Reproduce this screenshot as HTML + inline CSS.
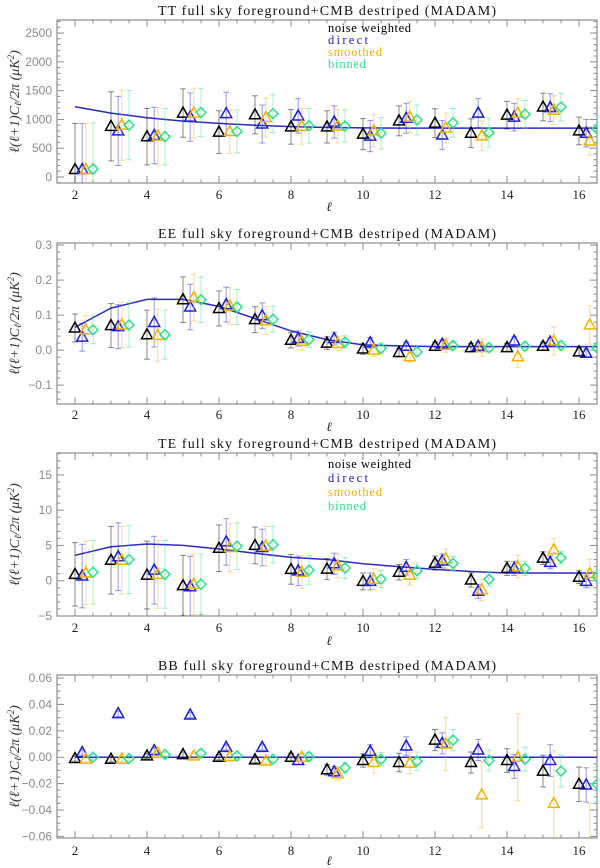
<!DOCTYPE html>
<html><head><meta charset="utf-8"><style>
html,body{margin:0;padding:0;background:#fff;}
svg{display:block;}
.ttl{font-family:"Liberation Serif",serif;font-size:14px;fill:#111;}
.ytk{font-family:"Liberation Sans",sans-serif;font-size:12px;fill:#8a8a8a;}
.xtk{font-family:"Liberation Serif",serif;font-size:13px;fill:#222;}
.leg{font-family:"Liberation Serif",serif;font-size:12.5px;}
.yt{font-family:"Liberation Serif",serif;font-size:14px;fill:#333;font-style:italic;}
</style></head><body>
<svg id="chart" width="600" height="868" viewBox="0 0 600 868" xmlns="http://www.w3.org/2000/svg"></svg>
<script>
// ---- shared x categories ----
const ells = [2,3,4,5,6,7,8,9,10,11,12,13,14,15,16];
const xTicks = [2,4,6,8,10,12,14,16];

// ---- TT ----
const ttBlack  = [130,880,700,1110,780,1080,870,870,745,975,935,760,1075,1215,800];
const ttBlue   = [130,800,720,1040,1100,920,1060,955,710,1020,730,1110,1040,1205,760];
const ttYellow = [130,900,710,1110,790,1030,880,885,800,1040,850,715,1110,1160,625];
const ttGreen  = [140,900,700,1120,790,1100,890,885,760,990,940,770,1090,1215,830];
const ttErr    = [800,600,490,420,370,330,300,280,270,260,250,250,240,240,240];
const ttErrY   = [800,610,500,430,380,340,310,290,280,270,260,260,250,250,250];
const ttTheory = [1220,1110,1030,970,930,900,875,860,852,850,850,850,850,850,850];
const ttYTicks = [0,500,1000,1500,2000,2500];
const ttYLabels = ["0","500","1000","1500","2000","2500"];

// ---- EE ----
const eeBlack  = [0.063,0.070,0.044,0.144,0.119,0.087,0.028,0.020,0.003,-0.007,0.011,0.007,0.007,0.011,-0.005];
const eeBlue   = [0.037,0.067,0.079,0.123,0.130,0.098,0.033,0.033,0.021,0.011,0.017,0.011,0.026,0.023,-0.009];
const eeYellow = [0.058,0.072,0.042,0.150,0.126,0.084,0.025,0.019,0.000,-0.019,0.014,0.007,-0.019,0.026,0.072];
const eeGreen  = [0.058,0.072,0.044,0.144,0.123,0.088,0.030,0.023,0.005,-0.005,0.013,0.007,0.011,0.013,0.007];
const eeErr    = [0.040,0.063,0.070,0.065,0.050,0.037,0.022,0.018,0.015,0.012,0.012,0.012,0.012,0.012,0.012];
const eeErrY   = [0.040,0.065,0.075,0.067,0.052,0.040,0.025,0.020,0.018,0.015,0.020,0.025,0.030,0.040,0.055];
const eeTheory = [0.065,0.120,0.145,0.145,0.125,0.090,0.055,0.030,0.015,0.012,0.010,0.010,0.010,0.010,0.010];
const eeYTicks = [-0.1,0,0.1,0.2,0.3];
const eeYLabels = ["\u22120.1","0.0","0.1","0.2","0.3"];

// ---- TE ----
const teBlack  = [0.9,2.9,0.8,-0.7,4.6,5.0,1.6,1.65,-0.1,1.2,2.5,0.1,1.75,3.2,0.5];
const teBlue   = [0.66,3.4,1.5,-0.85,5.5,4.7,1.4,2.4,-0.1,1.9,2.8,-1.5,1.75,2.6,-0.1];
const teYellow = [1.1,2.9,0.9,-0.5,4.7,4.9,1.2,2.1,0.2,0.8,3.1,-1.3,2.0,4.4,1.0];
const teGreen  = [1.2,3.0,0.9,-0.5,4.9,5.1,1.5,1.8,0.24,1.4,2.45,0.2,1.75,3.25,0.55];
const teErr    = [4.5,4.8,4.8,4.3,3.3,2.6,2.1,1.5,1.2,1.1,1.0,1.0,1.0,0.9,0.9];
const teErrY   = [4.5,4.8,4.8,4.3,3.4,2.8,2.3,1.7,1.5,1.4,1.4,1.5,1.6,1.6,2.0];
const teTheory = [3.6,4.8,5.2,5.0,4.5,3.9,3.3,3.0,2.4,2.0,1.6,1.3,1.1,1.1,1.1];
const teYTicks = [-5,0,5,10,15];
const teYLabels = ["\u22125","0","5","10","15"];

// ---- BB ----
const bbBlack  = [-0.001,-0.0015,0.001,0.002,0,-0.002,0,-0.0095,-0.0025,-0.004,0.013,-0.004,-0.0025,-0.0105,-0.0205];
const bbBlue   = [0.0035,0.033,0.005,0.032,0.0075,0.0075,-0.0025,-0.011,0.0045,0.0085,0.0105,0.0055,-0.007,-0.0025,-0.021];
const bbYellow = [-0.0015,-0.0015,0.003,0.001,0.0005,-0.003,0,-0.0125,-0.004,-0.0045,0.010,-0.0285,0,-0.035,-0.07];
const bbGreen  = [0,-0.001,0.002,0.003,0.001,-0.0015,0.0005,-0.008,-0.0015,-0.003,0.013,-0.0025,-0.0015,-0.0105,-0.0205];
const bbErr    = [0.002,0.002,0.002,0.002,0.002,0.002,0.003,0.004,0.005,0.007,0.008,0.008,0.009,0.012,0.013];
const bbErrY   = [0.002,0.002,0.002,0.002,0.002,0.002,0.003,0.005,0.008,0.008,0.020,0.025,0.033,0.040,0.035];
const bbTheory = [0,0,0,0,0,0,0,0,0,0,0,0,0,0,0];
const bbYTicks = [-0.06,-0.04,-0.02,0,0.02,0.04,0.06];
const bbYLabels = ["\u22120.06","\u22120.04","\u22120.02","0.00","0.02","0.04","0.06"];

const NS = "http://www.w3.org/2000/svg";
const svg = document.getElementById("chart");
const COL = {k:"#000000", b:"#1c1cd0", y:"#f2b400", g:"#2ee08c"};
const X0 = 57, X1 = 597, XMIN = 1.5, XMAX = 16.5;
function xs(v){ return X0 + (v - XMIN) / (XMAX - XMIN) * (X1 - X0); }

function mk(tag, attrs, parent){
  const e = document.createElementNS(NS, tag);
  for (const k in attrs) e.setAttribute(k, attrs[k]);
  (parent || svg).appendChild(e);
  return e;
}

const panels = [
  {id:"tt", title:"TT full sky foreground+CMB destriped (MADAM)", top:20, bot:183, ymin:-104, ymax:2726,
   yt:ttYTicks, yl:ttYLabels, minor:100, s:{k:ttBlack,b:ttBlue,y:ttYellow,g:ttGreen}, err:ttErr, errY:ttErrY, th:ttTheory,
   titleY:15, xtkY:199, xTitleY:211, legend:[28,40,52,64]},
  {id:"ee", title:"EE full sky foreground+CMB destriped (MADAM)", top:243, bot:404, ymin:-0.154, ymax:0.306,
   yt:eeYTicks, yl:eeYLabels, minor:0.02, s:{k:eeBlack,b:eeBlue,y:eeYellow,g:eeGreen}, err:eeErr, errY:eeErrY, th:eeTheory,
   titleY:238, xtkY:419, xTitleY:431, legend:null},
  {id:"te", title:"TE  full sky foreground+CMB destriped (MADAM)", top:453, bot:616, ymin:-5.0, ymax:18.1,
   yt:teYTicks, yl:teYLabels, minor:1, s:{k:teBlack,b:teBlue,y:teYellow,g:teGreen}, err:teErr, errY:teErrY, th:teTheory,
   titleY:448, xtkY:632, xTitleY:645, legend:[464,478,492,506]},
  {id:"bb", title:"BB full sky foreground+CMB destriped (MADAM)", top:675, bot:838, ymin:-0.0612, ymax:0.0623,
   yt:bbYTicks, yl:bbYLabels, minor:0.005, s:{k:bbBlack,b:bbBlue,y:bbYellow,g:bbGreen}, err:bbErr, errY:bbErrY, th:bbTheory,
   titleY:670, xtkY:855, xTitleY:865, legend:null}
];

const offs = {k:0, b:0.2, y:0.3, g:0.5};
const names = {k:"noise-weighted", b:"direct", y:"smoothed", g:"binned"};

panels.forEach(p => {
  const ys = v => p.bot - (v - p.ymin) / (p.ymax - p.ymin) * (p.bot - p.top);
  const g = mk("g", {});
  
  

  const t = mk("text", {x:(X0+X1)/2, y:p.titleY, "text-anchor":"middle", class:"ttl", textLength:338, lengthAdjust:"spacing"}, g);
  
  
  t.textContent = p.title;

  const cpId = "clip-" + p.id;
  const cp = mk("clipPath", {id:cpId}, g);
  mk("rect", {x:X0, y:p.top, width:X1-X0, height:p.bot-p.top}, cp);

  const box = mk("rect", {x:X0, y:p.top, width:X1-X0, height:p.bot-p.top, fill:"none", stroke:"#8c8c8c", "stroke-width":1.2}, g);
  
  

  for (let v = 2; v <= 16.01; v += 0.5) {
    const major = Math.abs(v - Math.round(v/2)*2) < 1e-6;
    const len = major ? 7 : 3.5;
    mk("line", {x1:xs(v), x2:xs(v), y1:p.bot, y2:p.bot-len, stroke:"#8c8c8c", "stroke-width":1}, g);
    mk("line", {x1:xs(v), x2:xs(v), y1:p.top, y2:p.top+len, stroke:"#8c8c8c", "stroke-width":1}, g);
  }
  xTicks.forEach(v => {
    const tl = mk("text", {x:xs(v), y:p.xtkY, "text-anchor":"middle", class:"xtk"}, g);
    
    
    tl.textContent = String(v);
  });
  const xt = mk("text", {x:329, y:p.xTitleY, "text-anchor":"middle", class:"xtk", "font-style":"italic"}, g);
  
  
  xt.textContent = "\u2113";

  const nMin = Math.ceil(p.ymin / p.minor), nMax = Math.floor(p.ymax / p.minor);
  for (let i = nMin; i <= nMax; i++) {
    const v = i * p.minor;
    const major = p.yt.some(tv => Math.abs(tv - v) < p.minor * 0.01);
    const len = major ? 7 : 3.5;
    mk("line", {x1:X0, x2:X0+len, y1:ys(v), y2:ys(v), stroke:"#8c8c8c", "stroke-width":1}, g);
    mk("line", {x1:X1, x2:X1-len, y1:ys(v), y2:ys(v), stroke:"#8c8c8c", "stroke-width":1}, g);
  }
  p.yt.forEach((v, i) => {
    const tl = mk("text", {x:X0-5, y:ys(v)+4, "text-anchor":"end", class:"ytk"}, g);
    
    
    tl.textContent = p.yl[i];
  });
  const yc = (p.top + p.bot) / 2;
  const yt = mk("text", {x:19, y:yc, "text-anchor":"middle", class:"yt", transform:"rotate(-90 19 " + yc + ")"}, g);
  
  
  yt.innerHTML = '\u2113(\u2113+1)C<tspan font-size="10" dy="2">\u2113</tspan><tspan dy="-2">/2\u03c0  (\u03bcK</tspan><tspan font-size="9" dy="-5">2</tspan><tspan dy="5">)</tspan>';

  const plot = mk("g", {"clip-path":"url(#" + cpId + ")"}, g);

  let pts = ells.map((l, i) => xs(l).toFixed(1) + "," + ys(p.th[i]).toFixed(1)).join(" ");
  pts += " " + xs(XMAX).toFixed(1) + "," + ys(p.th[p.th.length-1]).toFixed(1);
  const tl = mk("polyline", {points:pts, fill:"none", stroke:"#2a2ac4", "stroke-width":1.5}, plot);
  
  

  ["k","b","y","g"].forEach(s => {
    const vals = p.s[s];
    const errs = s === "y" ? p.errY : p.err;
    const sg = mk("g", {}, plot);
    
    
    ells.forEach((l, i) => {
      const cx = xs(l + offs[s]), cy = ys(vals[i]);
      const e1 = ys(vals[i] + errs[i]), e2 = ys(vals[i] - errs[i]);
      mk("line", {x1:cx, x2:cx, y1:e1, y2:e2, stroke:COL[s], "stroke-width":1, opacity:0.45}, sg);
      mk("line", {x1:cx-3, x2:cx+3, y1:e1, y2:e1, stroke:COL[s], "stroke-width":1, opacity:0.45}, sg);
      mk("line", {x1:cx-3, x2:cx+3, y1:e2, y2:e2, stroke:COL[s], "stroke-width":1, opacity:0.45}, sg);
      let m;
      if (s === "g") {
        m = mk("polygon", {points:`${cx},${cy-5} ${cx+5},${cy} ${cx},${cy+5} ${cx-5},${cy}`, fill:"none", stroke:COL[s], "stroke-width":1.5}, sg);
      } else {
        m = mk("polygon", {points:`${cx},${cy-6} ${cx+5.5},${cy+4} ${cx-5.5},${cy+4}`, fill:"none", stroke:COL[s], "stroke-width":1.5}, sg);
      }
      
      
    });
  });

  if (p.legend) {
    const labels = [["noise weighted","#000",83],["direct",COL.b,40],["smoothed",COL.y,54],["binned",COL.g,38]];
    labels.forEach((lb, i) => {
      const le = mk("text", {x:328, y:p.legend[i]+4, class:"leg", fill:lb[1], textLength:lb[2], lengthAdjust:"spacing"}, g);
      
      
      le.textContent = lb[0];
    });
  }
});
</script>
</body></html>
